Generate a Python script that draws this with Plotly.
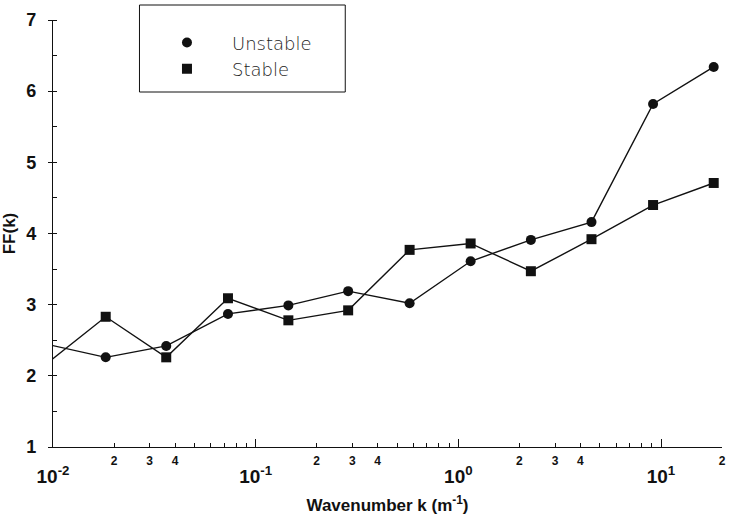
import plotly.graph_objects as go

# Data
wavenumber = [0.0091, 0.0182, 0.0362, 0.073, 0.145, 0.286, 0.575, 1.15, 2.28, 4.54, 9.14, 18.2]
unstable = [2.45, 2.26, 2.42, 2.87, 2.99, 3.19, 3.02, 3.61, 3.91, 4.16, 5.82, 6.34]
stable = [2.15, 2.83, 2.26, 3.09, 2.78, 2.92, 3.77, 3.86, 3.47, 3.92, 4.40, 4.71]

decade_vals = [0.01, 0.1, 1, 10]
decade_text = ["10<sup>-2</sup>", "10<sup>-1</sup>", "10<sup>0</sup>", "10<sup>1</sup>"]
minor_label_vals = [0.02, 0.03, 0.04, 0.2, 0.3, 0.4, 2, 3, 4, 20]
minor_label_text = ["2", "3", "4", "2", "3", "4", "2", "3", "4", "2"]
minor_tick_vals = [m * d for d in [0.01, 0.1, 1, 10] for m in range(2, 10)] + [20]
y_ticks = [1, 2, 3, 4, 5, 6, 7]

ink = "#111111"
sans = "Liberation Sans, Arial, sans-serif"
fig = go.Figure()
fig.add_trace(go.Scatter(x=wavenumber, y=unstable, mode="lines+markers",
                         line=dict(color=ink, width=1.4),
                         marker=dict(symbol="circle", size=10, color=ink),
                         showlegend=False))
fig.add_trace(go.Scatter(x=wavenumber, y=stable, mode="lines+markers",
                         line=dict(color=ink, width=1.4),
                         marker=dict(symbol="square", size=10, color=ink),
                         showlegend=False))
# legend-only entries (marker only)
fig.add_trace(go.Scatter(x=[None], y=[None], mode="markers", name="Unstable",
                         marker=dict(symbol="circle", size=10, color=ink)))
fig.add_trace(go.Scatter(x=[None], y=[None], mode="markers", name="Stable",
                         marker=dict(symbol="square", size=10, color=ink)))
# helper trace for the secondary (minor label) axis
fig.add_trace(go.Scatter(x=[None], y=[None], xaxis="x2", showlegend=False))

fig.update_layout(
    width=731, height=524,
    margin=dict(l=53, r=5, t=20, b=77),
    paper_bgcolor="white", plot_bgcolor="white",
    font=dict(family=sans, color=ink),
    showlegend=True,
    legend=dict(x=0.133, y=0.99, xanchor="left", yanchor="top",
                bgcolor="rgba(0,0,0,0)", borderwidth=0,
                font=dict(family="DejaVu Sans, sans-serif", size=18, color="#222222",
                          weight=200),
                itemwidth=80, tracegroupgap=0),
    xaxis=dict(type="log", range=[-2, 1.301], showgrid=False, zeroline=False,
               showline=True, linecolor=ink, linewidth=1.2,
               tickvals=decade_vals, ticktext=decade_text,
               ticks="inside", ticklen=8, tickcolor=ink, tickwidth=1,
               ticklabelstandoff=12,
               tickfont=dict(size=19, family=sans, color=ink, weight="bold"),
               minor=dict(tickvals=minor_tick_vals, ticks="inside", ticklen=4,
                          tickcolor=ink, tickwidth=1),
               title=dict(text="Wavenumber k (m<sup>-1</sup>)",
                          font=dict(size=17, color=ink, weight="bold"), standoff=13)),
    xaxis2=dict(type="log", range=[-2, 1.301], overlaying="x", anchor="y", side="bottom",
                showgrid=False, zeroline=False, showline=False,
                tickvals=minor_label_vals, ticktext=minor_label_text, ticks="",
                ticklabelstandoff=5,
                tickfont=dict(size=12, family=sans, color=ink, weight="bold")),
    yaxis=dict(range=[1, 7], showgrid=False, zeroline=False,
               showline=True, linecolor=ink, linewidth=1.2,
               tickvals=y_ticks, ticks="outside", ticklen=4,
               tickcolor=ink, tickwidth=1, ticklabelstandoff=8,
               tickfont=dict(size=18, color=ink, weight="bold"),
               minor=dict(dtick=0.5, ticks="inside", ticklen=4, tickcolor=ink),
               title=dict(text="FF(k)", font=dict(size=17, color=ink, weight="bold"),
                          standoff=6)),
)

# legend frame
fig.add_shape(type="rect", xref="paper", yref="paper",
              x0=(140 - 53) / 673, x1=(347 - 53) / 673,
              y0=1 - (92 - 20) / 427, y1=1 + (20 - 5) / 427,
              line=dict(color=ink, width=1), fillcolor="rgba(0,0,0,0)")

fig.write_html("out.html")
